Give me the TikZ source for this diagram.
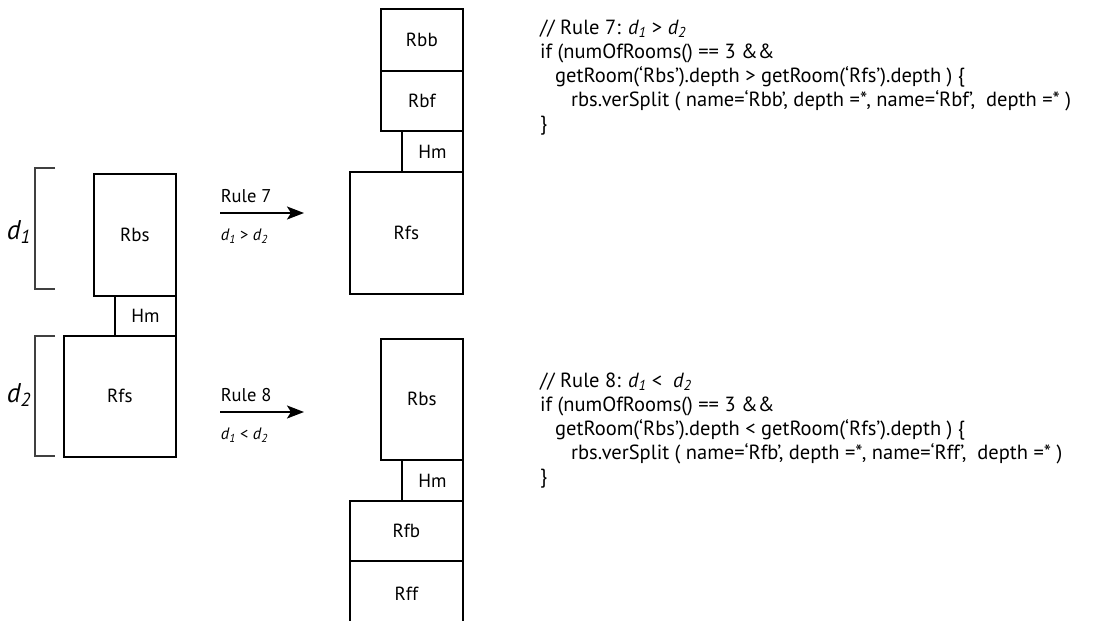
\documentclass[tikz,border=0pt]{standalone}
\usepackage{fontspec}
\setmainfont{PT Sans}
\usetikzlibrary{arrows.meta}
\usetikzlibrary{positioning}

\tikzset{
  room/.style={draw, line width=1.7pt, rectangle, anchor=north west, inner sep=0pt, font=\fontsize{19}{22}\selectfont},
  bracket/.style={draw=black!75, line width=1.2pt},
  rulearrow/.style={line width=1.8pt, -{Stealth[length=17pt, width=13pt, inset=4pt]}},
  code/.style={anchor=north west, align=left, inner sep=0pt, font=\fontsize{20.5}{24}\selectfont}
}
% room given by its corners
\newcommand{\roombox}[6]{\node[room, minimum width={(#4-#2)*1pt}, minimum height={(#5-#3)*1pt}] (#1) at (#2,#3) {#6};}
\newcommand{\dd}[1]{\textit{d\textsubscript{#1}}}

\begin{document}
\begin{tikzpicture}[x=1pt, y=-1pt]
      \path[clip] (0,0) rectangle (1098,621);
      % start layout
      \roombox{rbs}{93}{173}{175}{295}{Rbs}
      \roombox{hm}{114}{295}{175}{335}{Hm}
      \roombox{rfs}{63}{335}{175}{456}{Rfs}
      \draw[bracket] (55,168) -| (35,289) -- (55,289);
      \draw[bracket] (55,336) -| (35,456) -- (55,456);
      \node[font=\fontsize{27}{30}\selectfont] (done) at (19,232) {\dd{1}};
      \node[font=\fontsize{27}{30}\selectfont] (dtwo) at (19,395) {\dd{2}};
      % arrows
      \coordinate (r7a) at (220,213);
      \coordinate (r7b) at (304,213);
      \coordinate (r8a) at (220,412);
      \coordinate (r8b) at (304,412);
      \draw[rulearrow] (r7a) -- (r7b)
        node[pos=0, anchor=south west, inner sep=0pt, yshift=9pt, font=\fontsize{18.5}{20}\selectfont] (rule7) {Rule 7}
        node[pos=0, anchor=north west, inner sep=0pt, yshift=-15pt, font=\fontsize{16.5}{18}\selectfont] (cond7) {\dd{1} > \dd{2}};
      \draw[rulearrow] (r8a) -- (r8b)
        node[pos=0, anchor=south west, inner sep=0pt, yshift=9pt, font=\fontsize{18.5}{20}\selectfont] (rule8) {Rule 8}
        node[pos=0, anchor=north west, inner sep=0pt, yshift=-15pt, font=\fontsize{16.5}{18}\selectfont] (cond8) {\dd{1} < \dd{2}};
      % rule 7 result
      \roombox{rbb}{380}{8}{462}{70}{Rbb}
      \roombox{rbf}{380}{70}{462}{130}{Rbf}
      \roombox{hmt}{401}{130}{462}{171}{Hm}
      \roombox{rfst}{349}{171}{462}{293}{Rfs}
      % rule 8 result
      \roombox{rbsb}{380}{338}{462}{459}{Rbs}
      \roombox{hmb}{401}{459}{462}{500}{Hm}
      \roombox{rfb}{349}{500}{462}{560}{Rfb}
      \roombox{rff}{349}{560}{462}{626}{Rff}
      % code
      \node[code] (code7) at (540,20) {// Rule 7: \dd{1} > \dd{2}\\
        if (numOfRooms() == 3 \&\&\\
        \hspace*{15pt}getRoom(‘Rbs’).depth > getRoom(‘Rfs’).depth ) \{\\
        \hspace*{31pt}rbs.verSplit ( name=‘Rbb’, depth =*, name=‘Rbf’,\ \ depth =* )\\
        \}};
      \node[code] (code8) at (540,373) {// Rule 8: \dd{1} <\ \ \dd{2}\\
        if (numOfRooms() == 3 \&\&\\
        \hspace*{15pt}getRoom(‘Rbs’).depth < getRoom(‘Rfs’).depth ) \{\\
        \hspace*{31pt}rbs.verSplit ( name=‘Rfb’, depth =*, name=‘Rff’,\ \ depth =* )\\
        \}};
    \end{tikzpicture}
\end{document}
